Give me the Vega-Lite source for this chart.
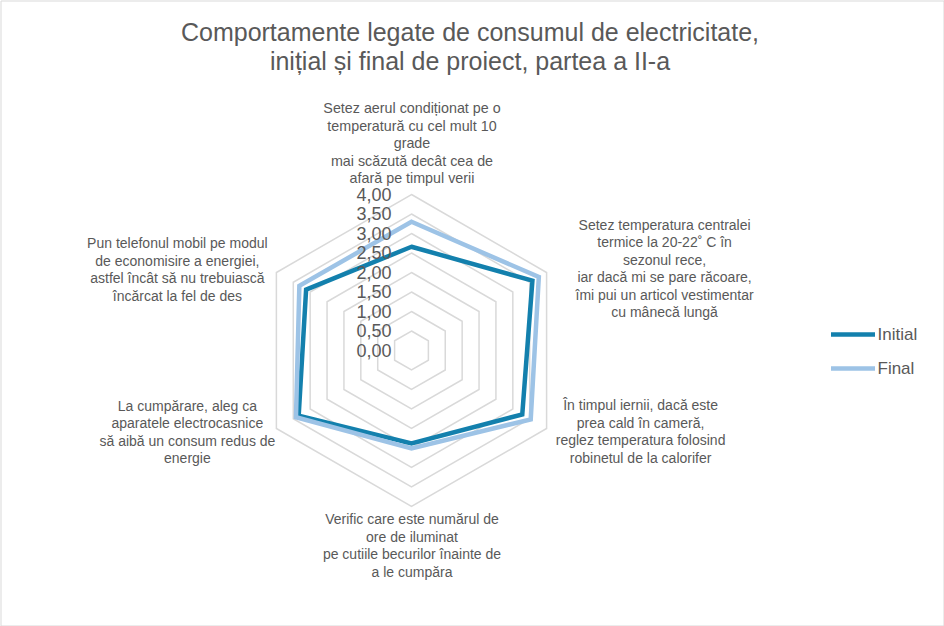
{
  "$schema": "https://vega.github.io/schema/vega-lite/v6.json",
  "width": 943,
  "height": 625,
  "padding": 0.5,
  "autosize": {"type": "none"},
  "background": "white",
  "view": {"stroke": "#d9d9d9", "strokeWidth": 1},
  "title": {
    "text": ["Comportamente legate de consumul de electricitate,", "inițial și final de proiect, partea a II-a"],
    "anchor": "middle",
    "frame": "group",
    "offset": 0,
    "dy": 74,
    "dx": -2,
    "font": "Liberation Sans",
    "fontSize": 25,
    "fontWeight": "normal",
    "lineHeight": 29,
    "color": "#595959"
  },
  "datasets": {
    "series": [
      {"series": "Initial", "k": 0, "value": 2.66},
      {"series": "Initial", "k": 1, "value": 3.58},
      {"series": "Initial", "k": 2, "value": 3.28},
      {"series": "Initial", "k": 3, "value": 2.38},
      {"series": "Initial", "k": 4, "value": 3.34},
      {"series": "Initial", "k": 5, "value": 3.12},
      {"series": "Final", "k": 0, "value": 3.3},
      {"series": "Final", "k": 1, "value": 3.77},
      {"series": "Final", "k": 2, "value": 3.53},
      {"series": "Final", "k": 3, "value": 2.51},
      {"series": "Final", "k": 4, "value": 3.42},
      {"series": "Final", "k": 5, "value": 3.32}
    ],
    "levels": [
      {"level": 0, "label": "0,00", "k": [0, 1, 2, 3, 4, 5]},
      {"level": 0.5, "label": "0,50", "k": [0, 1, 2, 3, 4, 5]},
      {"level": 1, "label": "1,00", "k": [0, 1, 2, 3, 4, 5]},
      {"level": 1.5, "label": "1,50", "k": [0, 1, 2, 3, 4, 5]},
      {"level": 2, "label": "2,00", "k": [0, 1, 2, 3, 4, 5]},
      {"level": 2.5, "label": "2,50", "k": [0, 1, 2, 3, 4, 5]},
      {"level": 3, "label": "3,00", "k": [0, 1, 2, 3, 4, 5]},
      {"level": 3.5, "label": "3,50", "k": [0, 1, 2, 3, 4, 5]},
      {"level": 4, "label": "4,00", "k": [0, 1, 2, 3, 4, 5]}
    ],
    "axes": [
      {"k": 0, "label": "Setez aerul condiționat pe o\ntemperatură cu cel mult 10\ngrade\nmai scăzută decât cea de\nafară pe timpul verii"},
      {"k": 1, "label": "Setez temperatura centralei\ntermice la 20-22˚ C în\nsezonul rece,\niar dacă mi se pare răcoare,\nîmi pui un articol vestimentar\ncu mânecă lungă"},
      {"k": 2, "label": "În timpul iernii, dacă este\nprea cald în cameră,\nreglez temperatura  folosind\nrobinetul de la calorifer"},
      {"k": 3, "label": "Verific care este numărul de\nore de iluminat\npe cutiile becurilor înainte de\na le cumpăra"},
      {"k": 4, "label": "La cumpărare, aleg ca\naparatele electrocasnice\nsă aibă un consum redus de\nenergie"},
      {"k": 5, "label": "Pun telefonul mobil pe modul\nde economisire a energiei,\nastfel încât să nu trebuiască\nîncărcat la fel de des"}
    ]
  },
  "encoding": {
    "x": {"field": "px", "type": "quantitative", "scale": {"domain": [-10.538, 13.641], "nice": false, "zero": false}, "axis": null},
    "y": {"field": "py", "type": "quantitative", "scale": {"domain": [-7.051, 8.974], "nice": false, "zero": false}, "axis": null}
  },
  "layer": [
    {
      "data": {"name": "levels"},
      "transform": [
        {"filter": "datum.level > 0"},
        {"flatten": ["k"]},
        {"calculate": "datum.level * sin(datum.k * PI / 3)", "as": "px"},
        {"calculate": "datum.level * cos(datum.k * PI / 3)", "as": "py"}
      ],
      "mark": {"type": "line", "interpolate": "linear-closed", "stroke": "#d9d9d9", "strokeWidth": 1.5},
      "encoding": {
        "detail": {"field": "level", "type": "nominal"},
        "order": {"field": "k", "type": "quantitative"}
      }
    },
    {
      "data": {"name": "series"},
      "transform": [
        {"calculate": "datum.value * sin(datum.k * PI / 3)", "as": "px"},
        {"calculate": "datum.value * cos(datum.k * PI / 3)", "as": "py"}
      ],
      "mark": {"type": "line", "interpolate": "linear-closed", "strokeWidth": 4.5, "strokeJoin": "miter"},
      "encoding": {
        "color": {
          "field": "series", "type": "nominal",
          "scale": {"domain": ["Initial", "Final"], "range": ["#1380ad", "#9dc3e6"]},
          "legend": {
            "orient": "none", "legendX": 828, "legendY": 309.5, "title": null,
            "symbolType": "stroke", "symbolSize": 1936, "symbolStrokeWidth": 4.5,
            "labelFont": "Liberation Sans", "labelFontSize": 17, "labelColor": "#595959",
            "labelOffset": 0, "rowPadding": -11, "padding": 0
          }
        },
        "order": {"field": "k", "type": "quantitative"}
      }
    },
    {
      "data": {"name": "levels"},
      "transform": [
        {"calculate": "0", "as": "px"},
        {"calculate": "datum.level", "as": "py"}
      ],
      "mark": {"type": "text", "align": "right", "baseline": "middle", "dx": -20, "dy": 1.5, "font": "Liberation Sans", "fontSize": 18, "color": "#595959"},
      "encoding": {"text": {"field": "label"}}
    },
    {
      "data": {"name": "axes"},
      "transform": [
        {"filter": "datum.k == 0"},
        {"calculate": "4 * sin(datum.k * PI / 3)", "as": "px"},
        {"calculate": "4 * cos(datum.k * PI / 3)", "as": "py"}
      ],
      "mark": {"type": "text", "align": "center", "baseline": "middle", "lineBreak": "\n", "lineHeight": 17.5, "dx": 0.5, "dy": -85, "font": "Liberation Sans", "fontSize": 14.3, "color": "#595959"},
      "encoding": {"text": {"field": "label"}}
    },
    {
      "data": {"name": "axes"},
      "transform": [
        {"filter": "datum.k == 1"},
        {"calculate": "4 * sin(datum.k * PI / 3)", "as": "px"},
        {"calculate": "4 * cos(datum.k * PI / 3)", "as": "py"}
      ],
      "mark": {"type": "text", "align": "center", "baseline": "middle", "lineBreak": "\n", "lineHeight": 17.5, "dx": 118, "dy": -46.75, "font": "Liberation Sans", "fontSize": 14, "color": "#595959"},
      "encoding": {"text": {"field": "label"}}
    },
    {
      "data": {"name": "axes"},
      "transform": [
        {"filter": "datum.k == 2"},
        {"calculate": "4 * sin(datum.k * PI / 3)", "as": "px"},
        {"calculate": "4 * cos(datum.k * PI / 3)", "as": "py"}
      ],
      "mark": {"type": "text", "align": "center", "baseline": "middle", "lineBreak": "\n", "lineHeight": 17.5, "dx": 94, "dy": -22.25, "font": "Liberation Sans", "fontSize": 14, "color": "#595959"},
      "encoding": {"text": {"field": "label"}}
    },
    {
      "data": {"name": "axes"},
      "transform": [
        {"filter": "datum.k == 3"},
        {"calculate": "4 * sin(datum.k * PI / 3)", "as": "px"},
        {"calculate": "4 * cos(datum.k * PI / 3)", "as": "py"}
      ],
      "mark": {"type": "text", "align": "center", "baseline": "middle", "lineBreak": "\n", "lineHeight": 17.5, "dx": 0.5, "dy": 13.75, "font": "Liberation Sans", "fontSize": 14, "color": "#595959"},
      "encoding": {"text": {"field": "label"}}
    },
    {
      "data": {"name": "axes"},
      "transform": [
        {"filter": "datum.k == 4"},
        {"calculate": "4 * sin(datum.k * PI / 3)", "as": "px"},
        {"calculate": "4 * cos(datum.k * PI / 3)", "as": "py"}
      ],
      "mark": {"type": "text", "align": "center", "baseline": "middle", "lineBreak": "\n", "lineHeight": 17.5, "dx": -89, "dy": -21.75, "font": "Liberation Sans", "fontSize": 14, "color": "#595959"},
      "encoding": {"text": {"field": "label"}}
    },
    {
      "data": {"name": "axes"},
      "transform": [
        {"filter": "datum.k == 5"},
        {"calculate": "4 * sin(datum.k * PI / 3)", "as": "px"},
        {"calculate": "4 * cos(datum.k * PI / 3)", "as": "py"}
      ],
      "mark": {"type": "text", "align": "center", "baseline": "middle", "lineBreak": "\n", "lineHeight": 17.5, "dx": -99, "dy": -28.25, "font": "Liberation Sans", "fontSize": 14, "color": "#595959"},
      "encoding": {"text": {"field": "label"}}
    }
  ]
}
